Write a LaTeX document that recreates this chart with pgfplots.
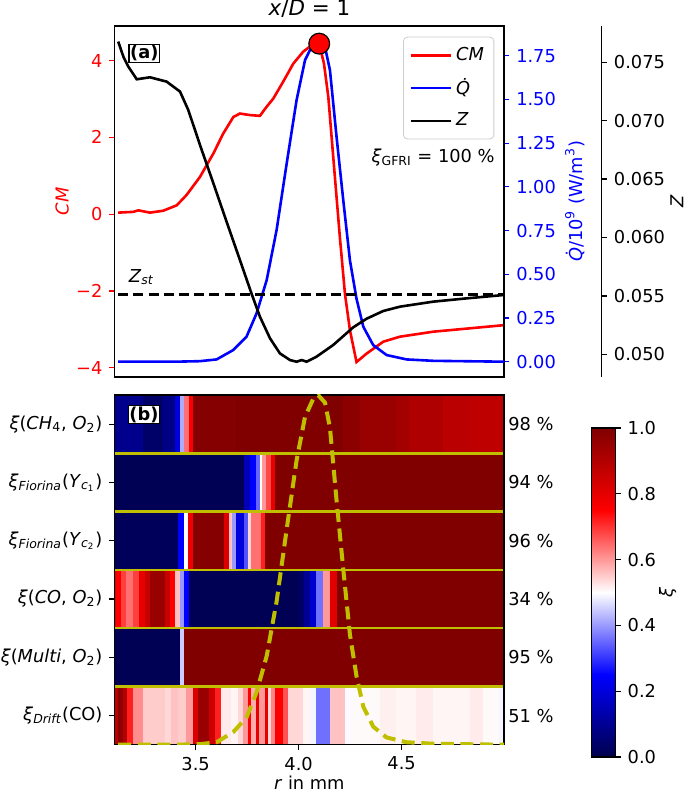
\documentclass[border=0pt]{standalone}
\usepackage{fontspec}
\setmainfont{DejaVu Sans}
\usepackage{pgfplots}
\usepackage{pgfplotstable}
\pgfplotsset{compat=1.18}

\definecolor{ycol}{rgb}{0.75,0.75,0}
\definecolor{leggray}{rgb}{0.8,0.8,0.8}
\newcommand\fs{\fontsize{8.9pt}{10.7pt}\selectfont}
\newcommand\fst{\fontsize{10.7pt}{12.8pt}\selectfont}

\pgfplotstableread{
x cm
3.124 0.04
3.160 0.05
3.197 0.06
3.222 0.10
3.250 0.07
3.278 0.04
3.343 0.09
3.408 0.23
3.456 0.50
3.521 0.97
3.586 1.58
3.634 2.10
3.683 2.53
3.715 2.62
3.764 2.58
3.812 2.56
3.845 2.80
3.877 3.01
3.925 3.45
3.974 3.92
4.022 4.23
4.063 4.40
4.100 4.44
4.123 3.92
4.144 3.06
4.168 1.49
4.200 -0.59
4.225 -2.08
4.249 -3.02
4.281 -3.85
4.330 -3.63
4.411 -3.32
4.492 -3.19
4.654 -3.06
4.816 -2.98
4.997 -2.89
}\CMdata

\pgfplotstableread{
x q
3.124 0.0
3.400 0.0
3.521 0.003
3.602 0.013
3.683 0.067
3.747 0.143
3.796 0.277
3.845 0.467
3.893 0.753
3.942 1.134
3.990 1.496
4.031 1.725
4.071 1.820
4.095 1.839
4.128 1.800
4.152 1.668
4.184 1.287
4.217 0.920
4.249 0.580
4.281 0.360
4.314 0.200
4.362 0.095
4.427 0.038
4.524 0.013
4.654 0.005
4.997 0.0
}\Qdata

\pgfplotstableread{
x z
3.124 0.07677
3.149 0.07548
3.173 0.07463
3.214 0.07354
3.278 0.07371
3.359 0.07334
3.424 0.07249
3.464 0.07092
3.521 0.06792
3.586 0.06464
3.650 0.06136
3.715 0.05807
3.772 0.05516
3.812 0.05322
3.861 0.05137
3.909 0.05008
3.958 0.04951
3.990 0.04937
4.015 0.04951
4.039 0.04937
4.087 0.04980
4.168 0.05080
4.265 0.05231
4.330 0.05305
4.411 0.05371
4.492 0.05408
4.654 0.05451
4.816 0.05479
4.997 0.05508
}\Zdata

% heat-map rows: start of segment / value of xi
\def\rowA{3.105/0.09, 3.246/0.04, 3.343/0.08, 3.400/0.20, 3.424/0.42, 3.443/0.64, 3.469/0.76, 3.488/0.99, 3.700/1.0, 4.217/0.975, 4.298/0.95, 4.476/0.93, 4.540/0.91, 4.702/0.885, 4.832/0.875, 5.0/0.875}
\def\rowB{3.105/0.01, 3.739/0.15, 3.764/0.25, 3.796/0.35, 3.812/0.50, 3.825/0.60, 3.845/0.68, 3.869/0.80, 3.885/1.0, 5.0/1.0}
\def\rowC{3.105/0.02, 3.416/0.25, 3.443/0.50, 3.467/0.78, 3.488/0.99, 3.642/0.82, 3.662/0.56, 3.679/0.40, 3.696/0.20, 3.739/0.33, 3.755/0.54, 3.772/0.64, 3.820/0.72, 3.837/1.0, 5.0/1.0}
\def\rowD{3.105/0.82, 3.116/0.76, 3.141/0.69, 3.165/0.64, 3.197/0.69, 3.226/0.80, 3.254/0.86, 3.278/0.95, 3.351/0.86, 3.375/0.76, 3.400/0.56, 3.424/0.40, 3.443/0.25, 3.469/0.01, 4.006/0.04, 4.030/0.10, 4.055/0.18, 4.087/0.36, 4.119/0.60, 4.152/0.81, 4.188/1.0, 5.0/1.0}
\def\rowE{3.105/0.01, 3.424/0.45, 3.443/1.0, 5.0/1.0}
\def\rowF{3.105/0.88, 3.125/0.97, 3.150/0.90, 3.168/0.72, 3.197/0.61, 3.246/0.55, 3.351/0.54, 3.383/0.56, 3.416/0.55, 3.456/0.60, 3.488/0.82, 3.513/0.95, 3.569/0.85, 3.594/0.72, 3.626/0.52, 3.675/0.51, 3.707/0.54, 3.731/0.60, 3.755/0.76, 3.772/0.58, 3.796/0.80, 3.809/0.60, 3.837/0.80, 3.853/0.54, 3.869/0.62, 3.885/0.76, 3.925/0.67, 3.950/0.54, 4.022/0.51, 4.055/0.49, 4.087/0.36, 4.152/0.56, 4.225/0.495, 4.265/0.505, 4.395/0.515, 4.476/0.51, 4.573/0.52, 4.654/0.51, 4.767/0.51, 4.832/0.52, 4.896/0.505, 4.977/0.49, 5.0/0.49}

\newcommand\buildrow[4]{%
  \gdef#4{}%
  \foreach \xx/\cc in #1 {\xdef#4{#4 (\xx,#2) [\cc] (\xx,#3) [\cc]}}%
}
\buildrow{\rowA}{5}{6}{\coordsA}%
\buildrow{\rowB}{4}{5}{\coordsB}%
\buildrow{\rowC}{3}{4}{\coordsC}%
\buildrow{\rowD}{2}{3}{\coordsD}%
\buildrow{\rowE}{1}{2}{\coordsE}%
\buildrow{\rowF}{0}{1}{\coordsF}%

\pgfplotsset{
  base/.style={scale only axis, width=194.65pt, xmin=3.107, xmax=4.997,
    tick label style={font=\fs}, label style={font=\fs},
    major tick length=2.6pt, tick align=outside,
    axis line style={line width=0.6pt},
    every tick/.style={line width=0.6pt, black},
    scaled ticks=false,
  },
  top/.style={base, at={(57.35pt,208.5pt)}, anchor=south west, height=175.5pt},
  hrow/.style={surf, shader=flat corner, point meta=explicit, mesh/rows=2, mesh/ordering=y varies},
}

\begin{document}%
\begin{tikzpicture}[font=\fs]
\path[use as bounding box] (0,0) rectangle (342.5pt,397pt);

% ---------- panel (a): CM host axis
\begin{axis}[top, ymin=-4.24, ymax=4.90,
  xtick=\empty, ytick={-4,-2,0,2,4}, yticklabels={−4,−2,0,2,4},
  ytick pos=left, y tick label style={red}, y tick style={red},
  ylabel={\textit{CM}}, ylabel style={red, at={(axis description cs:-0.135,0.5)}, anchor=center}]
\addplot[red, line width=1.3pt] table[x=x,y=cm]{\CMdata};
\end{axis}

% ---------- Q axis
\begin{axis}[top, ymin=-0.0875, ymax=1.92,
  axis y line*=right, axis x line=none,
  ytick={0,0.25,0.5,0.75,1,1.25,1.5,1.75},
  yticklabels={0.00,0.25,0.50,0.75,1.00,1.25,1.50,1.75},
  y tick label style={blue}, y tick style={blue},
  ylabel={\textit{Q̇}/10\textsuperscript{9} (W/m\textsuperscript{3})},
  ylabel style={blue, at={(axis description cs:1.182,0.5)}, anchor=center}]
\addplot[blue, line width=1.3pt] table[x=x,y=q]{\Qdata};
\end{axis}

% ---------- Z curve
\begin{axis}[top, ymin=0.04806, ymax=0.0781, hide axis]
\addplot[black, line width=1.3pt] table[x=x,y=z]{\Zdata};
\addplot[black, line width=1.5pt, dash pattern=on 5pt off 2.6pt] coordinates {(3.124,0.05516) (4.997,0.05516)};
\end{axis}

% ---------- offset Z spine
\begin{axis}[base, at={(106.2pt,208.5pt)}, anchor=south west, height=175.5pt,
  ymin=0.04806, ymax=0.0781, axis y line*=right, axis x line=none,
  ytick={0.050,0.055,0.060,0.065,0.070,0.075},
  yticklabels={0.050,0.055,0.060,0.065,0.070,0.075},
  ylabel={\textit{Z}}, ylabel style={at={(axis description cs:1.193,0.5)}, anchor=center}]
\addplot[draw=none] coordinates {(3.5,0.06)};
\end{axis}

% ---------- overlay: marker, legend, texts
\begin{axis}[top, ymin=-4.24, ymax=4.90, hide axis, clip=false,
  legend style={at={(rel axis cs:0.975,0.9695)}, anchor=north east, draw=leggray,
    fill=white, fill opacity=0.8, text opacity=1, rounded corners=2pt, font=\fs,
    row sep=3.6pt, inner xsep=3pt, inner ysep=3pt},
  legend cell align=left,
  legend image code/.code={\draw[#1] (0pt,0pt) -- (20pt,0pt);}]
\addlegendimage{red, line width=1.3pt}\addlegendentry{\textit{CM}}
\addlegendimage{blue, line width=1.3pt}\addlegendentry{\textit{Q̇}}
\addlegendimage{black, line width=1.3pt}\addlegendentry{\textit{Z}}
\addplot[only marks, mark=*, mark size=5.2pt, mark options={fill=red, draw=black, line width=0.6pt}, forget plot] coordinates {(4.100,4.44)};
\node[anchor=center, font=\fst] at (rel axis cs:0.5,1) [yshift=8.5pt] {\textit{x}/\textit{D} = 1};
\node[draw, fill=white, line width=0.6pt, inner sep=0.6pt, font=\fs\bfseries] at (rel axis cs:0.076,0.922) {(a)};
\node[anchor=east] at (rel axis cs:0.994,0.624) {\textit{ξ}\textsubscript{GFRI} = 100 \%};
\node[anchor=west] at (rel axis cs:0.018,0.285) {\textit{Z}\textsubscript{\textit{st}}};
\end{axis}

% ---------- panel (b): heat map
\begin{axis}[base, at={(57.35pt,24.65pt)}, anchor=south west, height=174.85pt,
  ymin=0, ymax=6, axis on top, clip mode=individual,
  xtick={3.5,4,4.5}, xticklabels={3.5,4.0,4.5},
  ytick={0.5,1.5,2.5,3.5,4.5,5.5},
  yticklabels={{\textit{ξ}\textsubscript{\textit{Drift}}(CO)},
               {\textit{ξ}(\textit{Multi}, \textit{O}\textsubscript{2})},
               {\textit{ξ}(\textit{CO}, \textit{O}\textsubscript{2})},
               {\textit{ξ}\textsubscript{\textit{Fiorina}}(\textit{Y}\textsubscript{\textit{c}\textsubscript{2}})},
               {\textit{ξ}\textsubscript{\textit{Fiorina}}(\textit{Y}\textsubscript{\textit{c}\textsubscript{1}})},
               {\textit{ξ}(\textit{CH}\textsubscript{4}, \textit{O}\textsubscript{2})}},
  xtick pos=bottom, ytick pos=left,
  xlabel={\textit{r} in mm}, xlabel style={at={(axis description cs:0.5,-0.1095)}, anchor=center},
  colormap={seismic}{rgb=(0,0,0.3) rgb=(0,0,1) rgb=(1,1,1) rgb=(1,0,0) rgb=(0.5,0,0)},
  point meta min=0, point meta max=1,
  colorbar,
  colorbar style={at={(parent axis.north east)}, anchor=north west,
    xshift=35.2pt, yshift=-16.5pt, scale only axis, width=12pt, height=164.5pt,
    ytick={0,0.2,0.4,0.6,0.8,1}, yticklabels={0.0,0.2,0.4,0.6,0.8,1.0},
    ytick pos=right, tick align=outside, major tick length=2.6pt,
    tick label style={font=\fs}, label style={font=\fs},
    axis line style={line width=0.6pt}, every tick/.style={line width=0.6pt, black},
    ylabel={\textit{ξ}}, ylabel style={at={(axis description cs:3.18,0.5)}, anchor=center}}]
\edef\tmp{\noexpand\addplot[hrow] coordinates {\coordsA};}\tmp
\edef\tmp{\noexpand\addplot[hrow] coordinates {\coordsB};}\tmp
\edef\tmp{\noexpand\addplot[hrow] coordinates {\coordsC};}\tmp
\edef\tmp{\noexpand\addplot[hrow] coordinates {\coordsD};}\tmp
\edef\tmp{\noexpand\addplot[hrow] coordinates {\coordsE};}\tmp
\edef\tmp{\noexpand\addplot[hrow] coordinates {\coordsF};}\tmp
\addplot[ycol, line width=1.35pt] coordinates {(3.107,1) (4.997,1)};
\addplot[ycol, line width=1.35pt] coordinates {(3.107,2) (4.997,2)};
\addplot[ycol, line width=1.35pt] coordinates {(3.107,3) (4.997,3)};
\addplot[ycol, line width=1.35pt] coordinates {(3.107,4) (4.997,4)};
\addplot[ycol, line width=1.35pt] coordinates {(3.107,5) (4.997,5)};
\node[anchor=west, inner sep=0pt] at (rel axis cs:1,0.9167) [xshift=2pt] {98 \%};
\node[anchor=west, inner sep=0pt] at (rel axis cs:1,0.75) [xshift=2pt] {94 \%};
\node[anchor=west, inner sep=0pt] at (rel axis cs:1,0.5833) [xshift=2pt] {96 \%};
\node[anchor=west, inner sep=0pt] at (rel axis cs:1,0.4167) [xshift=2pt] {34 \%};
\node[anchor=west, inner sep=0pt] at (rel axis cs:1,0.25) [xshift=2pt] {95 \%};
\node[anchor=west, inner sep=0pt] at (rel axis cs:1,0.0833) [xshift=2pt] {51 \%};
\node[draw, fill=white, line width=0.6pt, inner sep=0.6pt, font=\fs\bfseries] at (rel axis cs:0.075,0.944) {(b)};
\end{axis}

% ---------- yellow dashed heat-release profile over panel (b)
\begin{axis}[base, at={(57.35pt,24.65pt)}, anchor=south west, height=174.85pt,
  ymin=0, ymax=1.84, hide axis]
\addplot[ycol, line width=2pt, dash pattern=on 6.5pt off 3.3pt] table[x=x,y=q]{\Qdata};
\end{axis}
\end{tikzpicture}%
\end{document}
